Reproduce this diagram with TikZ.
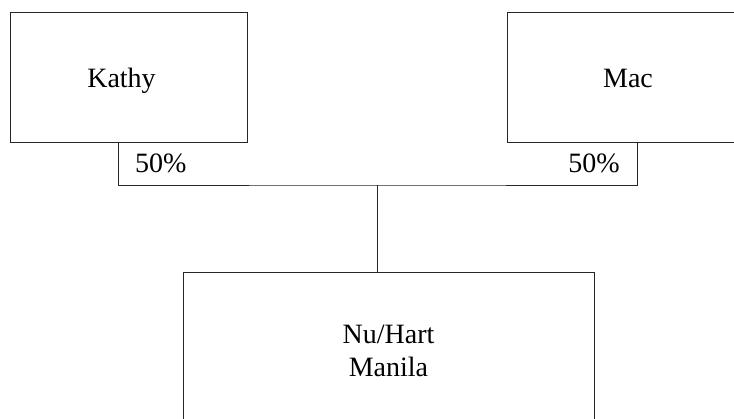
\documentclass[tikz,border=0pt]{standalone}
\usepackage{fontspec}
\setmainfont{Liberation Serif}
\begin{document}
\begin{tikzpicture}[x=1pt,y=-1pt,
  entity/.style={draw=black!85, line width=0.8pt, align=center, inner sep=0pt,
    text height=22pt, text depth=0pt,
    font=\fontsize{28}{33}\selectfont},
  pct/.style={inner sep=0pt, font=\fontsize{28}{33}\selectfont},
  link/.style={draw=black!85, line width=0.8pt}]
\clip (0,0) rectangle (734,419);
\node[entity, minimum width=237pt, minimum height=130pt] (kathy) at (128.5,77) {\hspace*{-14pt}Kathy};
\node[entity, minimum width=242pt, minimum height=130pt] (mac) at (628,77) {Mac};
\node[entity, text height=55pt, minimum width=411pt, minimum height=154pt] (nu) at (388.5,349) {Nu/Hart\\Manila};
\coordinate (junc) at (377,185);
\draw[link] ([xshift=-10.5pt]kathy.south) |- (junc) -| ([xshift=9pt]mac.south);
\draw[link] (junc) -- (junc |- nu.north);
\node[pct, anchor=base west] (pk) at (135,173) {50\%};
\node[pct, anchor=base east] (pm) at (620,173) {50\%};
\end{tikzpicture}
\end{document}
